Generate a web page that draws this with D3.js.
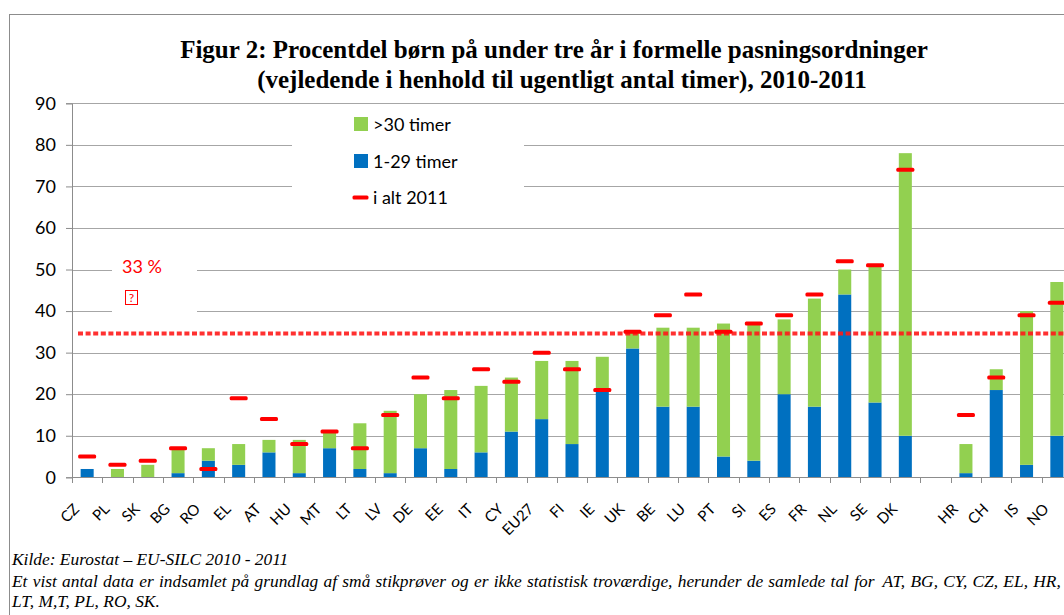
<!DOCTYPE html>
<html>
<head>
<meta charset="utf-8">
<script src="https://cdnjs.cloudflare.com/ajax/libs/d3/7.8.5/d3.min.js"></script>
<style>
  body { margin: 0; background: #fff; overflow: hidden; }
  svg { display: block; }
</style>
</head>
<body>
<div id="chart"></div>
<script>

// data
var countries = ["CZ","PL","SK","BG","RO","EL","AT","HU","MT","LT","LV","DE","EE","IT","CY","EU27","FI","IE","UK","BE","LU","PT","SI","ES","FR","NL","SE","DK","","HR","CH","IS","NO"];
var timer1_29 = [2,0,0,1,4,3,6,1,7,2,1,7,2,6,11,14,8,21,31,17,17,5,4,20,17,44,18,10,null,1,21,3,10];
var timer30   = [0,2,3,6,3,5,3,8,4,11,15,13,19,16,13,14,20,8,4,19,19,32,33,18,26,6,33,68,null,7,5,37,37];
var ialt2011  = [5,3,4,7,2,19,14,8,11,7,15,24,19,26,23,30,26,21,35,39,44,35,37,39,44,52,51,74,null,15,24,39,42];
var yTicks = [0,10,20,30,40,50,60,70,80,90];
var target = 34.6;   // dotted line (labelled "33 %")

var W = 1064, H = 615;
var svg = d3.select("#chart")
  .append("svg")
    .attr("width", W)
    .attr("height", H);

// frame
svg.append("rect")
  .attr("x", 9.5).attr("y", 14.5)
  .attr("width", 1200).attr("height", 700)
  .attr("fill", "none")
  .attr("stroke", "#8c8c8c");

// title
var title = svg.append("text")
  .attr("text-anchor", "middle")
  .attr("font-family", "Liberation Serif, Times New Roman, serif")
  .attr("font-weight", "bold")
  .attr("font-size", 25);
title.append("tspan").attr("x", 554).attr("y", 58)
  .text("Figur 2: Procentdel børn på under tre år i formelle pasningsordninger");
title.append("tspan").attr("x", 562).attr("y", 88)
  .text("(vejledende i henhold til ugentligt antal timer), 2010-2011");

// scales
var keys = countries.map(function(d) { return d === "" ? "_blank" : d; });
var x = d3.scaleBand()
  .domain(keys)
  .range([72, 1072])
  .paddingInner(0.57)
  .paddingOuter(0.285);

var y = d3.scaleLinear()
  .domain([0, 90])
  .range([477.3, 103.3]);

var data = keys.map(function(k, i) {
  return { key: k, label: countries[i], blue: timer1_29[i], green: timer30[i], total: ialt2011[i] };
});

// gridlines
svg.append("g")
  .selectAll("line")
  .data(yTicks.slice(1))
  .enter()
  .append("line")
    .attr("x1", 72).attr("x2", W)
    .attr("y1", function(d) { return Math.round(y(d)) + 0.5; })
    .attr("y2", function(d) { return Math.round(y(d)) + 0.5; })
    .attr("stroke", "#a6a6a6")
    .attr("stroke-width", 1.2);

// white boxes behind legend and label
svg.append("rect").attr("x", 292).attr("y", 110).attr("width", 232).attr("height", 104).attr("fill", "#fff");
svg.append("rect").attr("x", 112).attr("y", 250).attr("width", 85).attr("height", 68).attr("fill", "#fff");

// y axis
var yAxis = svg.append("g")
  .attr("transform", "translate(72,0)")
  .call(d3.axisLeft(y).tickValues(yTicks).tickSize(6).tickPadding(10));
yAxis.select(".domain").attr("stroke", "#8c8c8c");
yAxis.selectAll(".tick line").attr("stroke", "#8c8c8c");
yAxis.selectAll("text")
  .attr("font-family", "Lato, Calibri, sans-serif")
  .attr("font-size", 18)
  .attr("fill", "#000");

// stacked bars
var bars = svg.append("g");
bars.selectAll("rect.blue")
  .data(data.filter(function(d) { return d.blue; }))
  .enter()
  .append("rect")
    .attr("class", "blue")
    .attr("x", function(d) { return x(d.key); })
    .attr("width", x.bandwidth())
    .attr("y", function(d) { return y(d.blue); })
    .attr("height", function(d) { return y(0) - y(d.blue); })
    .attr("fill", "#0070C0");
bars.selectAll("rect.green")
  .data(data.filter(function(d) { return d.green; }))
  .enter()
  .append("rect")
    .attr("class", "green")
    .attr("x", function(d) { return x(d.key); })
    .attr("width", x.bandwidth())
    .attr("y", function(d) { return y((d.blue || 0) + d.green); })
    .attr("height", function(d) { return y(d.blue || 0) - y((d.blue || 0) + d.green); })
    .attr("fill", "#92D050");

// x axis line and ticks at category boundaries
svg.append("line")
  .attr("x1", 72).attr("x2", W)
  .attr("y1", 477.5).attr("y2", 477.5)
  .attr("stroke", "#8c8c8c");
svg.append("g")
  .selectAll("line")
  .data(d3.range(keys.length + 1))
  .enter()
  .append("line")
    .attr("x1", function(i) { return Math.round(72 + i * x.step()) + 0.5; })
    .attr("x2", function(i) { return Math.round(72 + i * x.step()) + 0.5; })
    .attr("y1", 477).attr("y2", 483)
    .attr("stroke", "#8c8c8c");

// x labels, rotated 45 degrees
svg.append("g")
  .selectAll("g")
  .data(data.filter(function(d) { return d.label !== ""; }))
  .enter()
  .append("g")
    .attr("transform", function(d) {
      return "translate(" + (x(d.key) + x.bandwidth() / 2 - 7) + ",510) rotate(-45)";
    })
  .append("text")
    .attr("text-anchor", "end")
    .attr("font-family", "Lato, Calibri, sans-serif")
    .attr("font-size", 15)
    .attr("fill", "#000")
    .text(function(d) { return d.label; });

// target line
svg.append("line")
  .attr("x1", 78).attr("x2", W)
  .attr("y1", y(target)).attr("y2", y(target))
  .attr("stroke", "#ff1a1a")
  .attr("stroke-width", 4)
  .attr("stroke-dasharray", "5,2.6")
  .attr("opacity", 0.9);

// total 2011 markers
svg.append("g")
  .selectAll("rect")
  .data(data.filter(function(d) { return d.total != null; }))
  .enter()
  .append("rect")
    .attr("x", function(d) { return x(d.key) + x.bandwidth() / 2 - 9; })
    .attr("y", function(d) { return y(d.total) - 2; })
    .attr("width", 18)
    .attr("height", 4)
    .attr("rx", 1.5)
    .attr("fill", "#ff0000");

// target label
svg.append("text")
  .attr("x", 122).attr("y", 273)
  .attr("font-family", "Lato, Calibri, sans-serif")
  .attr("font-size", 18)
  .attr("fill", "#ff0000")
  .text("33 %");
svg.append("rect")
  .attr("x", 125.5).attr("y", 290.5).attr("width", 12).attr("height", 14)
  .attr("fill", "none").attr("stroke", "#ff0000");
svg.append("text")
  .attr("x", 131.5).attr("y", 302)
  .attr("text-anchor", "middle")
  .attr("font-family", "Lato, Calibri, sans-serif")
  .attr("font-size", 12)
  .attr("fill", "#ff0000")
  .text("?");

// legend
var legend = svg.append("g")
  .attr("font-family", "Lato, Calibri, sans-serif")
  .attr("font-size", 18)
  .attr("fill", "#000");
legend.append("rect").attr("x", 354).attr("y", 117).attr("width", 14).attr("height", 14).attr("fill", "#92D050");
legend.append("text").attr("x", 373).attr("y", 131).text(">30 timer");
legend.append("rect").attr("x", 354).attr("y", 154).attr("width", 14).attr("height", 14).attr("fill", "#0070C0");
legend.append("text").attr("x", 373).attr("y", 167.5).text("1-29 timer");
legend.append("rect").attr("x", 352.5).attr("y", 195.5).attr("width", 16).attr("height", 4).attr("rx", 1.5).attr("fill", "#ff0000");
legend.append("text").attr("x", 373).attr("y", 204).text("i alt 2011");

// footnotes
var notes = svg.append("g")
  .attr("font-family", "Liberation Serif, Times New Roman, serif")
  .attr("font-style", "italic")
  .attr("font-size", 17.4)
  .attr("fill", "#000");
notes.append("text").attr("x", 12).attr("y", 565)
  .text("Kilde: Eurostat – EU-SILC 2010 - 2011");
var note2 = notes.append("text").attr("x", 12).attr("y", 587)
  .attr("word-spacing", 0.9);
note2.append("tspan")
  .text("Et vist antal data er indsamlet på grundlag af små stikprøver og er ikke statistisk troværdige, herunder de samlede tal for");
note2.append("tspan").attr("dx", 8)
  .text("AT, BG, CY, CZ, EL, HR,");
notes.append("text").attr("x", 12).attr("y", 607)
  .text("LT, M,T, PL, RO, SK.");

</script>
</body>
</html>
